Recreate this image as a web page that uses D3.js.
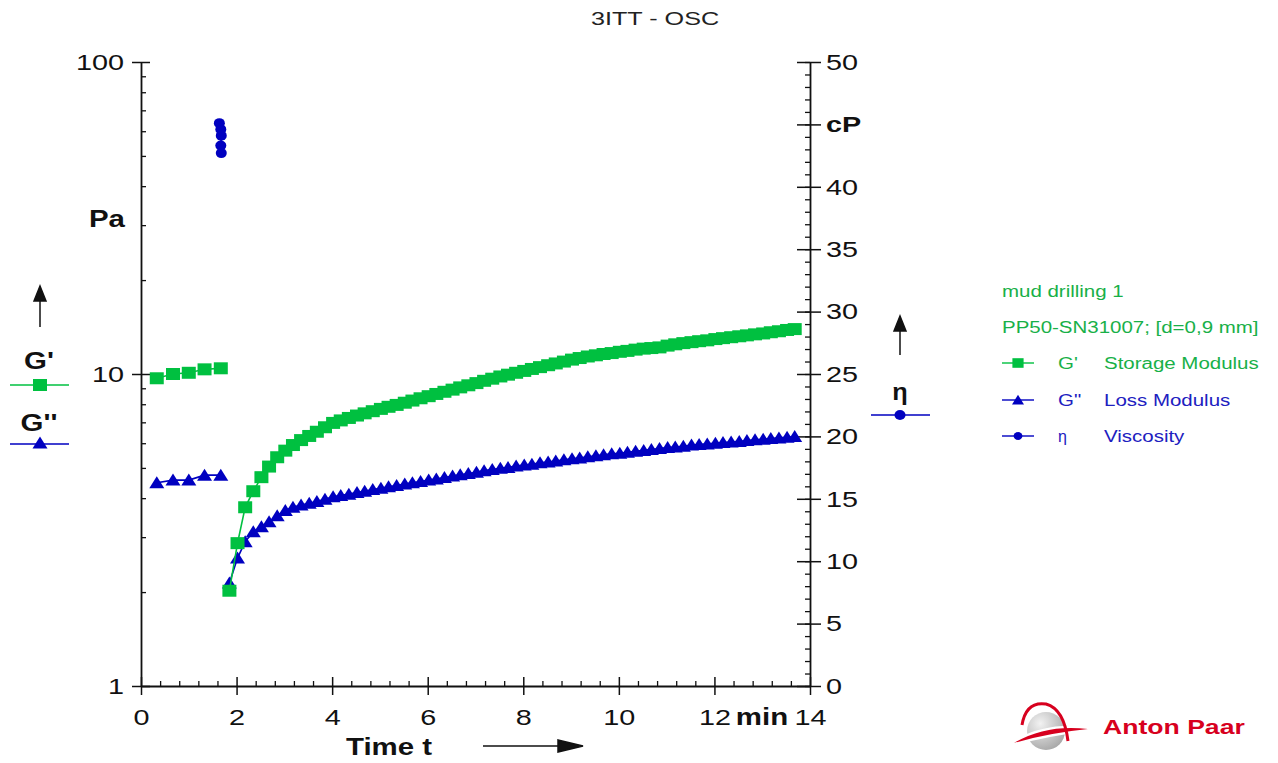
<!DOCTYPE html>
<html>
<head>
<meta charset="utf-8">
<script src="https://cdn.jsdelivr.net/npm/d3@7"></script>
<style>
  body { margin: 0; background: #fff; }
  svg { display: block; font-family: "Liberation Sans", Arial, sans-serif; }
</style>
</head>
<body>
<svg width="1278" height="763"></svg>
<script>
// first block, one point every 20 s
const times1 = [0.33, 0.67, 1.0, 1.33, 1.67];
const storage1 = [9.69, 10.0, 10.09, 10.35, 10.43];
const loss1 = [4.48, 4.57, 4.57, 4.74, 4.74];

// viscosity points (cP)
const timesEta = [1.64, 1.67, 1.68, 1.67, 1.68];
const eta = [45.1, 44.6, 44.1, 43.3, 42.7];

// second block, one point every 10 s
const times2 = [
  1.85, 2.02, 2.18, 2.35, 2.52, 2.68, 2.85, 3.02, 3.18, 3.35,
  3.52, 3.68, 3.85, 4.02, 4.18, 4.35, 4.52, 4.68, 4.85, 5.02,
  5.18, 5.35, 5.52, 5.68, 5.85, 6.02, 6.18, 6.35, 6.52, 6.68,
  6.85, 7.02, 7.18, 7.35, 7.52, 7.68, 7.85, 8.02, 8.18, 8.35,
  8.52, 8.68, 8.85, 9.02, 9.18, 9.35, 9.52, 9.68, 9.85, 10.02,
  10.18, 10.35, 10.52, 10.68, 10.85, 11.02, 11.18, 11.35, 11.52, 11.68,
  11.85, 12.02, 12.18, 12.35, 12.52, 12.68, 12.85, 13.02, 13.18, 13.35,
  13.52, 13.68
];
const storage2 = [
  2.02, 2.87, 3.74, 4.21, 4.67, 5.05, 5.41, 5.68, 5.92, 6.14,
  6.33, 6.53, 6.75, 6.97, 7.10, 7.23, 7.36, 7.48, 7.60, 7.73,
  7.85, 7.96, 8.09, 8.22, 8.36, 8.49, 8.63, 8.77, 8.91, 9.06,
  9.20, 9.35, 9.51, 9.66, 9.82, 9.95, 10.09, 10.23, 10.38, 10.52,
  10.67, 10.81, 10.96, 11.12, 11.25, 11.38, 11.48, 11.59, 11.67, 11.78,
  11.86, 11.97, 12.06, 12.11, 12.17, 12.33, 12.45, 12.56, 12.65, 12.74,
  12.82, 12.94, 13.03, 13.12, 13.21, 13.30, 13.40, 13.49, 13.61, 13.71,
  13.84, 13.93
];
const loss2 = [
  2.14, 2.57, 2.90, 3.12, 3.24, 3.36, 3.51, 3.65, 3.74, 3.80,
  3.85, 3.90, 3.97, 4.04, 4.08, 4.12, 4.17, 4.21, 4.26, 4.30,
  4.35, 4.39, 4.44, 4.48, 4.52, 4.57, 4.61, 4.66, 4.71, 4.75,
  4.80, 4.84, 4.90, 4.94, 4.99, 5.02, 5.07, 5.11, 5.14, 5.19,
  5.22, 5.26, 5.31, 5.35, 5.38, 5.43, 5.47, 5.51, 5.55, 5.57,
  5.61, 5.65, 5.69, 5.73, 5.77, 5.81, 5.83, 5.87, 5.92, 5.94,
  5.97, 6.00, 6.03, 6.05, 6.08, 6.12, 6.15, 6.18, 6.21, 6.24,
  6.27, 6.30
];

const xTicks = [0, 2, 4, 6, 8, 10, 12, 14];
const gTicks = [1, 10, 100];
const gMinor = [2, 3, 4, 5, 6, 7, 8, 9, 20, 30, 40, 50, 60, 70, 80, 90];
const etaTicks = [0, 5, 10, 15, 20, 25, 30, 35, 40, 45, 50];

const green = '#00c040';
const blue = '#0000c0';
const ink = '#111';
const sx = 1.28; // the original text is drawn wide

const svg = d3.select('svg');

const x = d3.scaleLinear().domain([0, 14]).range([141, 810]);
const yG = d3.scaleLog().domain([1, 100]).range([686, 62]);
const yEta = d3.scaleLinear().domain([0, 50]).range([686, 62]);

function label(px, py, str, o = {}) {
  return svg.append('text')
      .attr('transform', `translate(${px},${py}) scale(${o.sx || sx},1)`)
      .attr('text-anchor', o.anchor || 'start')
      .attr('font-size', o.size || 22)
      .attr('font-weight', o.bold ? 'bold' : null)
      .attr('fill', o.color || ink)
      .text(str);
}

function styleAxis(g) {
  g.selectAll('path.domain').attr('stroke', ink).attr('stroke-width', 1.8);
  g.selectAll('.tick line').attr('stroke', ink).attr('stroke-width', 1.5);
  g.selectAll('.tick text').attr('fill', ink).attr('font-size', 22.5);
}

// x axis
const xAxis = svg.append('g')
    .attr('transform', 'translate(0,686)')
    .call(d3.axisBottom(x).tickValues(xTicks).tickSize(9).tickSizeOuter(0));
styleAxis(xAxis);
xAxis.selectAll('.tick line').attr('y1', -9);
xAxis.selectAll('.tick text')
    .attr('y', 39).attr('dy', null)
    .attr('transform', `scale(${sx},1)`);

const xMinor = d3.range(0.4, 14, 0.4).filter(v => Math.abs(v / 2 - Math.round(v / 2)) > 0.01);
svg.append('g')
    .attr('transform', 'translate(0,686)')
    .call(d3.axisBottom(x).tickValues(xMinor).tickSize(-5).tickFormat(''))
    .call(g => g.select('.domain').remove())
    .selectAll('line').attr('stroke', ink).attr('stroke-width', 1.3);

// left log axis
const yAxis = svg.append('g')
    .attr('transform', 'translate(141,0)')
    .call(d3.axisLeft(yG).tickValues(gTicks).tickFormat(d3.format('d')).tickSize(9).tickSizeOuter(0));
styleAxis(yAxis);
yAxis.selectAll('.tick line').attr('x1', 9);
yAxis.selectAll('.tick text')
    .attr('x', -17 / sx)
    .attr('transform', `scale(${sx},1)`);

svg.append('g')
    .attr('transform', 'translate(141,0)')
    .call(d3.axisLeft(yG).tickValues(gMinor).tickSize(-5).tickFormat(''))
    .call(g => g.select('.domain').remove())
    .selectAll('line').attr('stroke', ink).attr('stroke-width', 1.3);

// right viscosity axis
const rAxis = svg.append('g')
    .attr('transform', 'translate(810,0)')
    .call(d3.axisRight(yEta).tickValues(etaTicks).tickSize(11).tickSizeOuter(0)
        .tickFormat(d => d === 45 ? 'cP' : d));
styleAxis(rAxis);
rAxis.selectAll('.tick line').attr('x1', -13);
rAxis.selectAll('.tick text')
    .attr('x', 16 / sx)
    .attr('transform', `scale(${sx},1)`)
    .attr('font-weight', d => d === 45 ? 'bold' : null);

svg.append('g')
    .attr('transform', 'translate(810,0)')
    .call(d3.axisRight(yEta).ticks(50).tickSize(-5).tickFormat(''))
    .call(g => g.select('.domain').remove())
    .selectAll('line').attr('stroke', ink).attr('stroke-width', 1.3);

// markers
const square = 'M-7,-6H7V6H-7Z';
const triangle = 'M0,-6.5L7.5,5.5H-7.5Z';
const dot = 'M-5.5,0A5.5,5,0,1,0,5.5,0A5.5,5,0,1,0,-5.5,0Z';

function series(ts, vs, y, color, marker) {
  const pts = ts.map((t, i) => ({t, v: vs[i]}));
  const line = d3.line().x(d => x(d.t)).y(d => y(d.v));
  svg.append('path')
      .attr('d', line(pts))
      .attr('fill', 'none')
      .attr('stroke', color)
      .attr('stroke-width', 1.6);
  svg.append('g')
      .selectAll('path')
      .data(pts)
      .enter()
      .append('path')
      .attr('transform', d => `translate(${x(d.t)},${y(d.v)})`)
      .attr('d', marker)
      .attr('fill', color);
}

series(times1, loss1, yG, blue, triangle);
series(times2, loss2, yG, blue, triangle);
series(times1, storage1, yG, green, square);
series(times2, storage2, yG, green, square);
series(timesEta, eta, yEta, blue, dot);

// title and axis names
label(655, 25, '3ITT - OSC', {anchor: 'middle', size: 18, sx: 1.4, color: '#222'});
label(125, 227, 'Pa', {anchor: 'end', bold: true, size: 23});
label(762, 725, 'min', {anchor: 'middle', bold: true, size: 23});
label(389, 755, 'Time t', {anchor: 'middle', bold: true, size: 23});

function arrow(d) {
  svg.append('path').attr('d', d).attr('fill', ink).attr('stroke', ink).attr('stroke-width', 1.5);
}
arrow('M483,746H562');
arrow('M558,740L583,746L558,752Z');
arrow('M40,327V298');
arrow('M34,301L40,286L46,301Z');
arrow('M900,355V328');
arrow('M894,331L900,316L906,331Z');

// left legend keys
label(39, 369, "G'", {anchor: 'middle', bold: true, size: 23});
svg.append('line').attr('x1', 10).attr('x2', 69).attr('y1', 385).attr('y2', 385)
    .attr('stroke', green).attr('stroke-width', 1.6);
svg.append('path').attr('d', square).attr('transform', 'translate(40,385)').attr('fill', green);

label(39, 431, "G''", {anchor: 'middle', bold: true, size: 23});
svg.append('line').attr('x1', 10).attr('x2', 69).attr('y1', 444).attr('y2', 444)
    .attr('stroke', blue).attr('stroke-width', 1.6);
svg.append('path').attr('d', triangle).attr('transform', 'translate(40,443)').attr('fill', blue);

// right legend key
label(900, 400, 'η', {anchor: 'middle', bold: true, size: 23, sx: 1.1});
svg.append('line').attr('x1', 871).attr('x2', 930).attr('y1', 415).attr('y2', 415)
    .attr('stroke', blue).attr('stroke-width', 1.6);
svg.append('path').attr('d', dot).attr('transform', 'translate(900,415)').attr('fill', blue);

// legend box
const legText = '#18b048';
const legBlue = '#2020c0';
label(1002, 297, 'mud drilling 1', {size: 16, color: legText});
label(1002, 333, 'PP50-SN31007; [d=0,9 mm]', {size: 16, color: legText});

const legendRows = [
  {y: 363, color: green, marker: square, sym: "G'", name: 'Storage Modulus', text: legText},
  {y: 400, color: blue, marker: triangle, sym: 'G"', name: 'Loss Modulus', text: legBlue},
  {y: 436, color: blue, marker: dot, sym: 'η', name: 'Viscosity', text: legBlue}
];
legendRows.forEach(r => {
  svg.append('line').attr('x1', 1002).attr('x2', 1034).attr('y1', r.y).attr('y2', r.y)
      .attr('stroke', r.color).attr('stroke-width', 1.4);
  svg.append('path').attr('d', r.marker)
      .attr('transform', `translate(1018,${r.y}) scale(0.8)`).attr('fill', r.color);
  label(1058, r.y + 6, r.sym, {size: 16, color: r.text, sx: r.sym === 'η' ? 1 : sx});
  label(1104, r.y + 6, r.name, {size: 16, color: r.text});
});

// Anton Paar logo
const red = '#d7001e';
const logo = svg.append('g').attr('transform', 'translate(1046,731)');
const grad = svg.append('defs').append('radialGradient').attr('id', 'globe')
    .attr('cx', '35%').attr('cy', '30%').attr('r', '75%');
grad.append('stop').attr('offset', '0%').attr('stop-color', '#f2f2f2');
grad.append('stop').attr('offset', '100%').attr('stop-color', '#a8a8a8');
logo.append('circle').attr('r', 19).attr('fill', 'url(#globe)');
logo.append('path')
    .attr('d', 'M-34,13Q-2,-8,44,-2Q0,3,-34,13Z')
    .attr('fill', '#fff').attr('stroke', '#fff').attr('stroke-width', 4);
logo.append('path')
    .attr('d', 'M-32,12Q0,-7,42,-2Q2,2,-32,12Z')
    .attr('fill', red);
logo.append('path')
    .attr('d', 'M-24,-6Q-20,-30,0,-27Q18,-22,22,10')
    .attr('fill', 'none').attr('stroke', red).attr('stroke-width', 3);
label(1103, 734, 'Anton Paar', {size: 20, bold: true, color: red, sx: 1.33});
</script>
</body>
</html>
